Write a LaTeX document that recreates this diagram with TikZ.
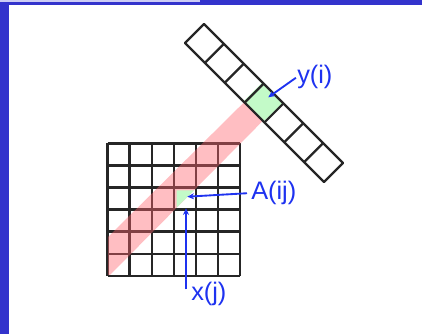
\documentclass[tikz,border=0pt]{standalone}
\usepackage{fontspec}
\setmainfont{Liberation Sans}
\usepackage{tikz}
\usetikzlibrary{arrows.meta, calc}
\definecolor{frameblue}{RGB}{51,51,204}
\definecolor{framelight}{RGB}{204,204,245}
\definecolor{labelblue}{RGB}{30,50,240}
\definecolor{cellgreen}{RGB}{195,250,200}
\definecolor{stripred}{RGB}{255,100,110}
\tikzset{
    frame/.style={fill=frameblue, draw=none},
    cellline/.style={draw=black!85, line width=1.7pt, line join=round},
    hit/.style={fill=cellgreen, draw=none},
    strip/.style={fill=stripred, fill opacity=0.42, draw=none},
    lbl/.style={font=\fontsize{19}{21}\selectfont, text=labelblue, inner sep=0pt},
    ptr/.style={-{Stealth[length=5pt, width=4.5pt]}, labelblue, line width=1.4pt}
}
\begin{document}
\begin{tikzpicture}[x=0.75pt, y=-0.75pt]
    \useasboundingbox (0,0) rectangle (422,334);
    % frame
    \fill[frame] (0,0) rectangle (422,5);
    \fill[frame] (0,0) rectangle (9,334);
    \fill[framelight] (0,0) rectangle (200,2);
    % matrix
    \foreach \i in {0,...,6} {
        \draw[cellline] ({107.5+22.1*\i},143.5) -- ({107.5+22.1*\i},275.7);
        \draw[cellline] (107.5,{143.5+22.03*\i}) -- (240,{143.5+22.03*\i});
    }
    % vector
    \fill[hit] (262,83) -- (282.7,103.3) -- (263.3,121.7) -- (243.3,101.7) -- cycle;
    \draw[cellline] (185,43) -- (204,24) -- (343,163) -- (324,182) -- cycle;
    \foreach \i in {1,...,6} {
        \draw[cellline] ({185+19.86*\i},{43+19.86*\i}) -- ({204+19.86*\i},{24+19.86*\i});
    }
    % ray
    \fill[strip] (243.3,103) -- (262,121.7) -- (110,275) -- (108,275) -- (108,237) -- cycle;
    \fill[hit] (176.5,190.3) -- (194.3,190.3) -- (176.5,207.5) -- cycle;
    % labels
    \node[lbl, anchor=west] (yi) at (297,77) {y(i)};
    \node[lbl, anchor=west] (aij) at (251,193) {A(ij)};
    \node[lbl, anchor=west] (xj) at (191,294) {x(j)};
    \coordinate (yhit) at (268.3,97.3);
    \coordinate (ahit) at (187.3,196.7);
    \coordinate (xhit) at (186,208.3);
    \coordinate (xfoot) at (186,289.3);
    \draw[ptr, shorten <=1pt] (yi.west) -- (yhit);
    \draw[ptr, shorten <=3pt] (aij.west) -- (ahit);
    \draw[ptr] (xfoot) -- (xhit);
\end{tikzpicture}
\end{document}
